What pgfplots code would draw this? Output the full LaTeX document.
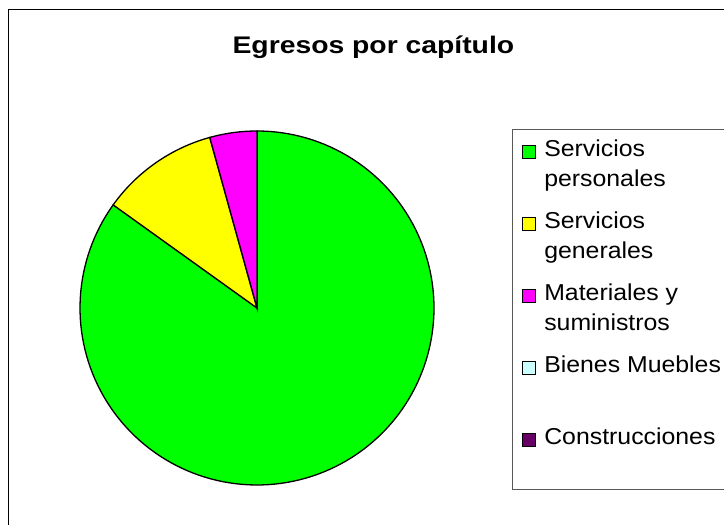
\documentclass[border=0pt]{standalone}
\usepackage{pgfplots}
\pgfplotsset{compat=1.18}
\usepackage{pgfplotstable}
\usepackage{fontspec}
\setmainfont{Liberation Sans}
\newfontfamily\titlefont[FakeStretch=1.18]{Liberation Sans}
\newfontfamily\legfont[FakeStretch=1.08]{Liberation Sans}
\definecolor{cGreen}{RGB}{0,255,0}
\definecolor{cYellow}{RGB}{255,255,0}
\definecolor{cMagenta}{RGB}{255,0,255}
\definecolor{cCyan}{RGB}{204,255,255}
\definecolor{cPurple}{RGB}{102,0,102}
\pgfplotstableread{
value
84.9
10.8
4.3
0
0
}\piedata
\begin{document}
\begin{tikzpicture}
\useasboundingbox (0,0) rectangle (724pt,525pt);
\clip (0,0) rectangle (724pt,525pt);
\fill[white] (0,0) rectangle (724pt,525pt);
\draw[black, line width=1pt] (8pt,515pt) rectangle (760pt,-20pt);
\node[anchor=base, inner sep=0pt, font=\titlefont\bfseries\fontsize{24}{28}\selectfont] at (373.4pt,471.7pt) {Egresos por capítulo};
\pgfplotstablegetelem{0}{value}\of\piedata \let\vA\pgfplotsretval
\pgfplotstablegetelem{1}{value}\of\piedata \let\vB\pgfplotsretval
\pgfplotstablegetelem{2}{value}\of\piedata \let\vC\pgfplotsretval
\pgfmathsetmacro{\aA}{90-3.6*\vA}
\pgfmathsetmacro{\aB}{\aA-3.6*\vB}
\pgfmathsetmacro{\aC}{\aB-3.6*\vC}
\begin{axis}[
  at={(80pt,40pt)}, anchor=south west, scale only axis,
  width=354pt, height=354pt,
  xmin=-1, xmax=1, ymin=-1, ymax=1,
  hide axis, clip=false,
  legend style={at={(1.2203,1.0056)}, anchor=north west,
    draw=gray!70!black, line width=0.8pt, fill=white,
    inner xsep=10pt, inner ysep=6pt, row sep=12pt, column sep=8pt,
    nodes={inner sep=0pt, text height=21pt, text depth=39pt},
    font=\legfont\fontsize{23}{30}\selectfont},
  legend cell align=left,
  legend image code/.code={\draw[#1, line width=0.9pt] (0pt,7pt) rectangle (13pt,20pt);},
]
\addplot[fill=cGreen, draw=black, line width=1.3pt, domain=\aA:90, samples=150] ({cos(x)},{sin(x)}) -- (axis cs:0,0) -- cycle;
\addlegendentry{\begin{tabular}[t]{@{}p{200pt}@{}}Servicios\\personales\end{tabular}}
\addplot[fill=cYellow, draw=black, line width=1.3pt, domain=\aB:\aA, samples=40] ({cos(x)},{sin(x)}) -- (axis cs:0,0) -- cycle;
\addlegendentry{\begin{tabular}[t]{@{}p{200pt}@{}}Servicios\\generales\end{tabular}}
\addplot[fill=cMagenta, draw=black, line width=1.3pt, domain=\aC:\aB, samples=20] ({cos(x)},{sin(x)}) -- (axis cs:0,0) -- cycle;
\addlegendentry{\begin{tabular}[t]{@{}p{200pt}@{}}Materiales y\\suministros\end{tabular}}
\addlegendimage{fill=cCyan, draw=black}
\addlegendentry{\begin{tabular}[t]{@{}p{200pt}@{}}Bienes Muebles\\ ~\end{tabular}}
\addlegendimage{fill=cPurple, draw=black}
\addlegendentry{\begin{tabular}[t]{@{}p{200pt}@{}}Construcciones\\ ~\end{tabular}}
\end{axis}
\end{tikzpicture}
\end{document}
